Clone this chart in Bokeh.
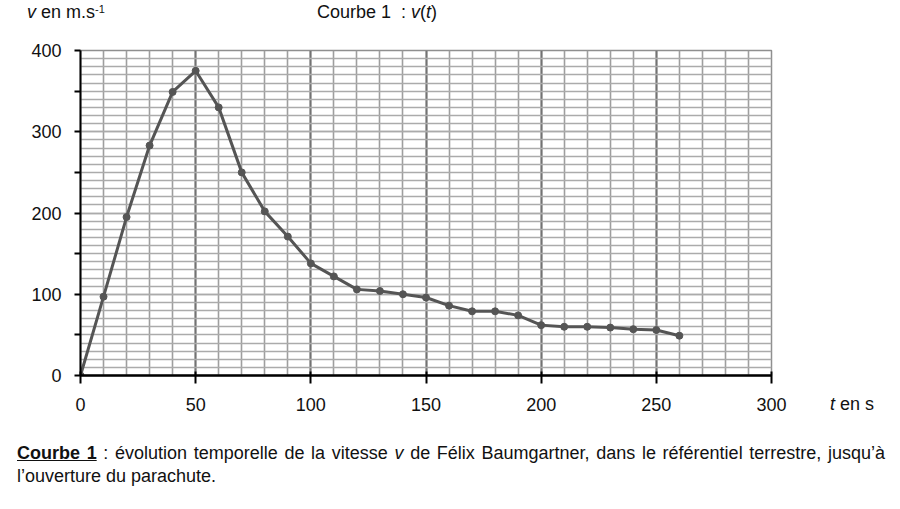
from bokeh.plotting import figure
from bokeh.models import Range1d, FixedTicker, Div, ColumnDataSource
from bokeh.layouts import column, row
from bokeh.embed import file_html
from bokeh.resources import INLINE

# ---- data ----
t_s = [0, 10, 20, 30, 40, 50, 60, 70, 80, 90, 100, 110, 120, 130, 140, 150,
       160, 170, 180, 190, 200, 210, 220, 230, 240, 250, 260]
v_ms = [0, 97, 195, 283, 349, 375, 330, 250, 202, 171, 138, 122, 106, 104, 100, 96,
        86, 79, 79, 74, 62, 60, 60, 59, 57, 56, 49]
x_ticks = [0, 50, 100, 150, 200, 250, 300]
y_ticks = [0, 100, 200, 300, 400]
y_minor_ticks = [50, 150, 250, 350]

FONT = "Liberation Sans"
CSS_FONT = "'Liberation Sans', Arial, sans-serif"
HEAD_H = 30
FIG_W, FIG_H = 815, 408

p = figure(width=FIG_W, height=FIG_H, output_backend="svg", toolbar_location=None,
           x_range=Range1d(0, 300), y_range=Range1d(0, 400),
           min_border_left=80, min_border_right=44, min_border_top=20,
           min_border_bottom=63, background_fill_color="white",
           border_fill_color="white", margin=0)
p.outline_line_color = "#8f8f8f"
p.outline_line_width = 1.5

# axes
p.xaxis.ticker = FixedTicker(ticks=x_ticks, minor_ticks=[])
p.yaxis.ticker = FixedTicker(ticks=y_ticks, minor_ticks=y_minor_ticks)
for ax in (p.xaxis[0], p.yaxis[0]):
    ax.axis_line_color = "black"
    ax.major_tick_line_color = "black"
    ax.major_label_text_font = FONT
    ax.major_label_text_font_size = "18px"
    ax.major_label_text_color = "#111111"
p.xaxis.axis_line_width = 2.5
p.xaxis.major_tick_line_width = 2
p.xaxis.major_tick_in = 4
p.xaxis.major_tick_out = 8
p.xaxis.minor_tick_line_color = None
p.xaxis.major_label_standoff = 14
p.yaxis.axis_line_width = 2
p.yaxis.major_tick_line_width = 2
p.yaxis.minor_tick_line_width = 2
p.yaxis.minor_tick_line_color = "black"
p.yaxis.major_tick_in = 0
p.yaxis.major_tick_out = 6
p.yaxis.minor_tick_in = 0
p.yaxis.minor_tick_out = 6
p.yaxis.major_label_standoff = 13

# grids
p.xgrid.ticker = FixedTicker(ticks=x_ticks, minor_ticks=list(range(0, 301, 10)))
p.xgrid.grid_line_color = "#727272"
p.xgrid.grid_line_width = 2
p.xgrid.minor_grid_line_color = "#9e9e9e"
p.xgrid.minor_grid_line_width = 1.6
p.ygrid.ticker = FixedTicker(ticks=y_ticks, minor_ticks=list(range(0, 401, 10)))
p.ygrid.grid_line_color = "#ababab"
p.ygrid.grid_line_width = 1.6
p.ygrid.minor_grid_line_color = "#ababab"
p.ygrid.minor_grid_line_width = 1.6

src = ColumnDataSource(dict(t=t_s, v=v_ms))
p.line("t", "v", source=src, line_color="#555555", line_width=3)
p.scatter("t", "v", source=src, size=7, fill_color="#555555", line_color="#555555")

base_style = {"font-family": CSS_FONT, "font-size": "18px", "line-height": "22px",
              "color": "#111111", "white-space": "nowrap"}

header = Div(
    text=('<span style="display:inline-block;width:290px"><i>v</i> en m.s'
          '<sup style="font-size:11px;vertical-align:5px;line-height:0">-1</sup></span>'
          'Courbe 1&nbsp; : <i>v</i>(<i>t</i>)'),
    width=880, height=HEAD_H, margin=0,
    styles=dict(base_style, **{"padding-left": "27px", "padding-top": "1px"}))

t_label = Div(
    text='<i>t</i> en s',
    width=70, height=FIG_H, margin=0,
    styles=dict(base_style, **{"padding-left": "15px", "padding-top": "363px"}))

caption = Div(
    text=('<div style="text-align:justify;text-align-last:justify;width:868px">'
          '<span style="font-weight:bold;text-decoration:underline">Courbe 1</span>'
          ' : évolution temporelle de la vitesse <i>v</i> '
          'de Félix Baumgartner, dans le référentiel terrestre, jusqu’à</div>'
          '<div>l’ouverture du parachute.</div>'),
    width=868, height=60, margin=(0, 0, 0, 17),
    styles={"font-family": CSS_FONT, "font-size": "18px", "line-height": "23px",
            "color": "#111111", "padding-top": "4px"})

layout = column(header, row(p, t_label, spacing=0), caption, spacing=0)
open("out.html", "w").write(file_html(layout, INLINE))
